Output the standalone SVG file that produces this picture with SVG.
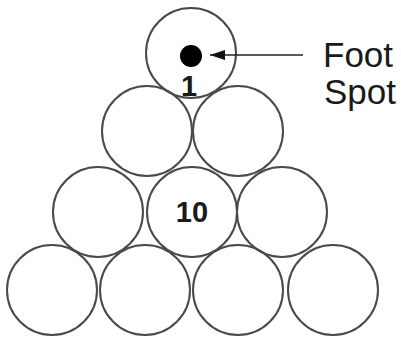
<svg xmlns="http://www.w3.org/2000/svg" width="401" height="339" viewBox="0 0 401 339">
<style>
.ball{fill:none;stroke:#4a4a4a;stroke-width:2}
.lbl{font-family:"Liberation Sans",Arial,sans-serif;font-weight:bold;font-size:29px;fill:#1a1a1a;text-anchor:middle}
.note{font-family:"Liberation Sans",Arial,sans-serif;font-size:35px;fill:#1a1a1a}
</style>
<defs>
<marker id="ah" markerWidth="16" markerHeight="12" refX="15" refY="5" orient="auto" markerUnits="userSpaceOnUse">
<path d="M0,0 L15,5 L0,10 Z" fill="#111"/>
</marker>
</defs>
<rect width="401" height="339" fill="#fff"/>
<g id="ball1"><circle class="ball" cx="191" cy="53" r="45"/><circle cx="191" cy="56" r="11" fill="#000"/><text class="lbl" x="189" y="96">1</text></g>
<g id="ball2a"><circle class="ball" cx="147" cy="131" r="45"/></g>
<g id="ball2b"><circle class="ball" cx="238" cy="131" r="45"/></g>
<g id="ball3a"><circle class="ball" cx="98" cy="212" r="45"/></g>
<g id="ball3b"><circle class="ball" cx="192" cy="212" r="45"/><text class="lbl" x="192" y="222">10</text></g>
<g id="ball3c"><circle class="ball" cx="282" cy="212" r="45"/></g>
<g id="ball4a"><circle class="ball" cx="52" cy="290" r="45"/></g>
<g id="ball4b"><circle class="ball" cx="145" cy="290" r="45"/></g>
<g id="ball4c"><circle class="ball" cx="238" cy="290" r="45"/></g>
<g id="ball4d"><circle class="ball" cx="333" cy="290" r="45"/></g>
<g id="connectors"><line x1="303" y1="55" x2="210" y2="55" stroke="#222" stroke-width="1.6" marker-end="url(#ah)"/></g>
<g id="footspot-label"><text class="note" x="323" y="67">Foot</text><text class="note" x="324" y="104">Spot</text></g>
</svg>
